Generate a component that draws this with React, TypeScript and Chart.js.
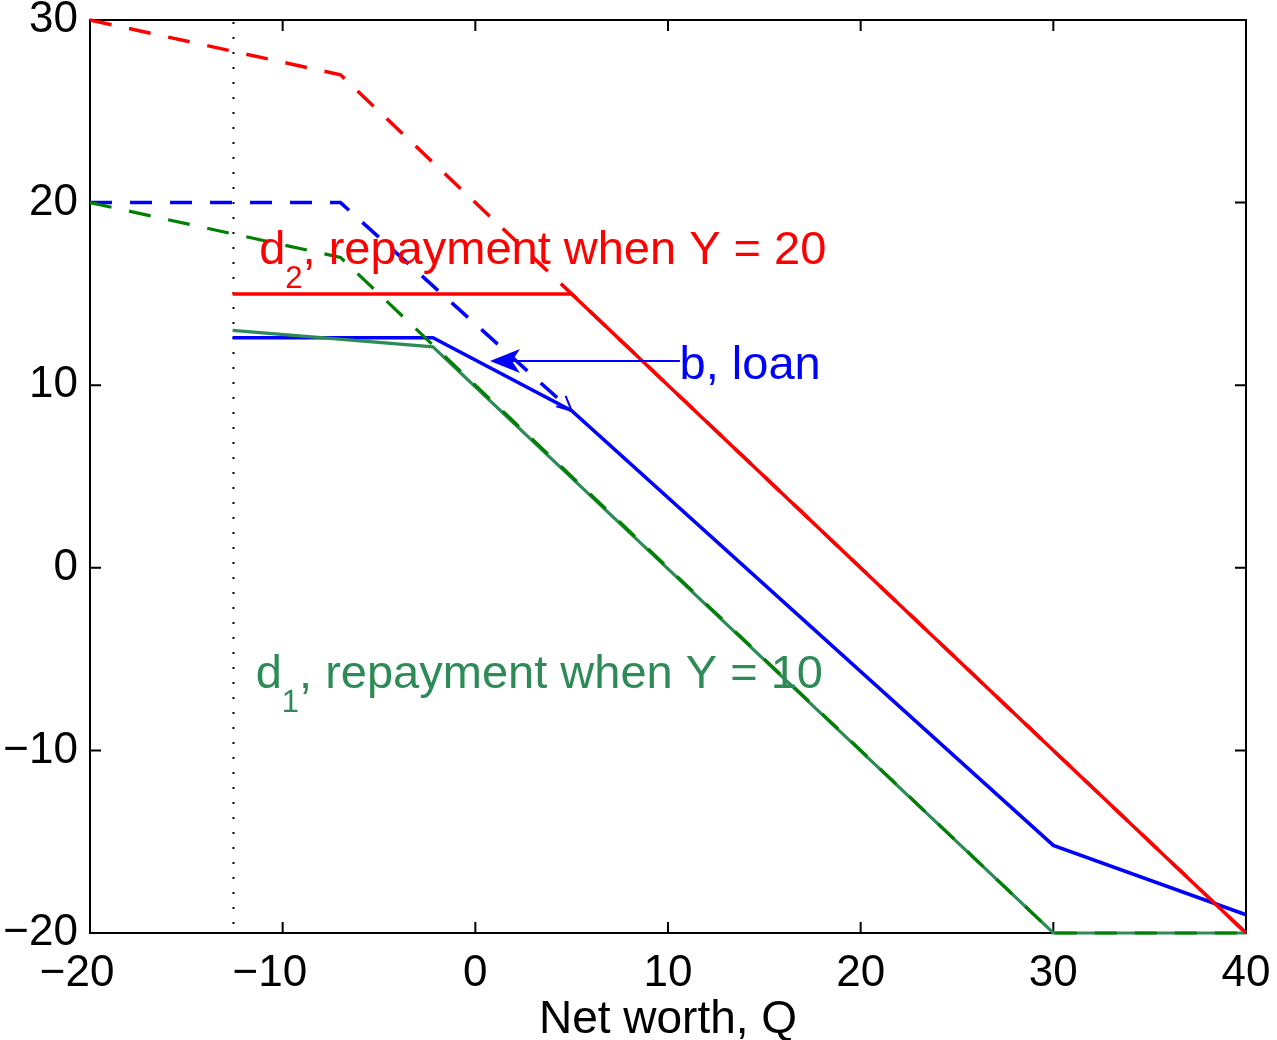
import { useEffect, useRef } from "react";
import { Chart, registerables } from "chart.js";

Chart.register(...registerables);

// Axis ticks
const xTickValues = [-20, -10, 0, 10, 20, 30, 40];
const yTickValues = [-20, -10, 0, 10, 20, 30];
const xAxisTitle = "Net worth, Q";

// Borrowing limit (vertical dotted line)
const borrowLimitQ = -12.6;

// d2: repayment when Y = 20
const d2DashedQ = [-20, -7, 40];
const d2DashedV = [30, 27, -20];
const d2SolidQ = [-12.6, 5, 40];
const d2SolidV = [15, 15, -20];

// b: loan
const bDashedQ = [-20, -7, 5];
const bDashedV = [20, 20, 8.6];
const bSolidQ = [-12.6, -2.2, 5, 30, 40];
const bSolidV = [12.6, 12.6, 8.6, -15.2, -19];

// d1: repayment when Y = 10
const d1DashedQ = [-20, -7, 30, 40];
const d1DashedV = [20, 17, -20, -20];
const d1SolidQ = [-12.6, -2.2, 30, 40];
const d1SolidV = [13, 12.1, -20, -20];

// Text annotations (anchored in data coordinates)
const d2Label = { q: -11.22, v: 16.64, main: "d", sub: "2", rest: ", repayment when Y = 20" };
const d1Label = { q: -11.4, v: -6.58, main: "d", sub: "1", rest: ", repayment when Y = 10" };
const bLabel = { q: 10.6, v: 10.34, text: "b, loan" };
const bArrowFrom = { q: 10.62, v: 11.33 };
const bArrowTo = { q: 0.76, v: 11.33 };

const FONT = "'Liberation Sans', Arial, Helvetica, sans-serif";
const TICK_SIZE = 44;
const TITLE_SIZE = 46;
const ANN_SIZE = 47;
const SUB_SIZE = 31;

const RED = "#ff0000";
const BLUE = "#0000ff";
const GREEN = "#008000";
const SEAGREEN = "#2e8b57";

const pts = (qs: number[], vs: number[]) => qs.map((q, i) => ({ x: q, y: vs[i] }));

const fmt = (v: number) => (v < 0 ? "\u2212" + Math.abs(v) : String(v));

const axesPlugin = {
  id: "matlabAxes",
  beforeDatasetsDraw(chart: any) {
    const { ctx, chartArea: a, scales } = chart;
    const x = scales.x;
    const y = scales.y;
    ctx.save();
    // dotted borrowing limit
    const lx = Math.round(x.getPixelForValue(borrowLimitQ)) + 0.5;
    ctx.strokeStyle = "#000";
    ctx.lineWidth = 2;
    ctx.setLineDash([2, 13]);
    ctx.beginPath();
    ctx.moveTo(lx, a.top + 2);
    ctx.lineTo(lx, a.bottom);
    ctx.stroke();
    ctx.setLineDash([]);
    // box
    ctx.lineWidth = 2;
    ctx.strokeRect(a.left, a.top, a.right - a.left, a.bottom - a.top);
    // inward ticks on all sides
    const tl = 11;
    ctx.beginPath();
    for (const v of xTickValues) {
      const p = x.getPixelForValue(v);
      ctx.moveTo(p, a.bottom);
      ctx.lineTo(p, a.bottom - tl);
      ctx.moveTo(p, a.top);
      ctx.lineTo(p, a.top + tl);
    }
    for (const v of yTickValues) {
      const p = y.getPixelForValue(v);
      ctx.moveTo(a.left, p);
      ctx.lineTo(a.left + tl, p);
      ctx.moveTo(a.right, p);
      ctx.lineTo(a.right - tl, p);
    }
    ctx.stroke();

    // x tick labels: digits centred on the tick, minus sign hanging to the left
    ctx.fillStyle = "#000";
    ctx.font = `${TICK_SIZE}px ${FONT}`;
    ctx.textBaseline = "alphabetic";
    for (const v of xTickValues) {
      const p = x.getPixelForValue(v);
      const digits = String(Math.abs(v));
      const w = ctx.measureText(digits).width;
      ctx.textAlign = "left";
      ctx.fillText(digits, p - w / 2, a.bottom + 53);
      if (v < 0) {
        ctx.textAlign = "right";
        ctx.fillText("\u2212", p - w / 2, a.bottom + 53);
      }
    }
    // x axis title
    ctx.font = `${TITLE_SIZE}px ${FONT}`;
    ctx.textAlign = "center";
    ctx.fillText(xAxisTitle, (a.left + a.right) / 2, a.bottom + 100);
    ctx.restore();
  },
  afterDatasetsDraw(chart: any) {
    const { ctx, scales } = chart;
    const x = scales.x;
    const y = scales.y;
    ctx.save();
    ctx.textAlign = "left";
    ctx.textBaseline = "alphabetic";

    const subLabel = (l: any, color: string) => {
      let px = x.getPixelForValue(l.q);
      const py = y.getPixelForValue(l.v);
      ctx.fillStyle = color;
      ctx.font = `${ANN_SIZE}px ${FONT}`;
      ctx.fillText(l.main, px, py);
      px += ctx.measureText(l.main).width;
      ctx.font = `${SUB_SIZE}px ${FONT}`;
      ctx.fillText(l.sub, px, py + 24);
      px += ctx.measureText(l.sub).width;
      ctx.font = `${ANN_SIZE}px ${FONT}`;
      ctx.fillText(l.rest, px, py);
    };
    subLabel(d2Label, RED);
    subLabel(d1Label, SEAGREEN);

    ctx.fillStyle = BLUE;
    ctx.font = `${ANN_SIZE}px ${FONT}`;
    ctx.fillText(bLabel.text, x.getPixelForValue(bLabel.q), y.getPixelForValue(bLabel.v));

    // annotation arrow pointing at the loan curve
    const fx = x.getPixelForValue(bArrowFrom.q);
    const fy = y.getPixelForValue(bArrowFrom.v);
    const tx = x.getPixelForValue(bArrowTo.q);
    const ty = y.getPixelForValue(bArrowTo.v);
    const ang = Math.atan2(ty - fy, tx - fx);
    ctx.strokeStyle = BLUE;
    ctx.lineWidth = 2;
    ctx.beginPath();
    ctx.moveTo(fx, fy);
    ctx.lineTo(tx - 20 * Math.cos(ang), ty - 20 * Math.sin(ang));
    ctx.stroke();
    const hl = 30;
    const hw = 12;
    const notch = 8;
    const bx = tx - hl * Math.cos(ang);
    const by = ty - hl * Math.sin(ang);
    const nx = -Math.sin(ang);
    const ny = Math.cos(ang);
    ctx.fillStyle = BLUE;
    ctx.beginPath();
    ctx.moveTo(tx, ty);
    ctx.lineTo(bx + nx * hw, by + ny * hw);
    ctx.lineTo(tx - (hl - notch) * Math.cos(ang), ty - (hl - notch) * Math.sin(ang));
    ctx.lineTo(bx - nx * hw, by - ny * hw);
    ctx.closePath();
    ctx.fill();

    // open arrowhead at the end of the dashed loan curve
    const n = bDashedQ.length;
    const ex = x.getPixelForValue(bDashedQ[n - 1]);
    const ey = y.getPixelForValue(bDashedV[n - 1]);
    const sx = x.getPixelForValue(bDashedQ[n - 2]);
    const sy = y.getPixelForValue(bDashedV[n - 2]);
    const a2 = Math.atan2(ey - sy, ex - sx);
    const al = 16;
    const spread = 0.45;
    ctx.lineWidth = 2;
    ctx.beginPath();
    ctx.moveTo(ex - al * Math.cos(a2 - spread), ey - al * Math.sin(a2 - spread));
    ctx.lineTo(ex, ey);
    ctx.lineTo(ex - al * Math.cos(a2 + spread), ey - al * Math.sin(a2 + spread));
    ctx.stroke();
    ctx.restore();
  },
};

export default function App() {
  const ref = useRef<HTMLCanvasElement | null>(null);

  useEffect(() => {
    document.body.style.margin = "0";
    const canvas = ref.current;
    if (!canvas) return;

    const line = (data: any, color: string, dashed: boolean, order: number, width = 3.5) => ({
      data,
      borderColor: color,
      backgroundColor: color,
      borderWidth: width,
      borderDash: dashed ? [22, 18] : [],
      pointRadius: 0,
      fill: false,
      tension: 0,
      order,
      clip: 4,
    });

    const chart = new Chart(canvas, {
      type: "line",
      data: {
        datasets: [
          line(pts(d2DashedQ, d2DashedV), RED, true, 7),
          line(pts(bDashedQ, bDashedV), BLUE, true, 6),
          line(pts(bSolidQ, bSolidV), BLUE, false, 5),
          line(pts(d1SolidQ, d1SolidV), SEAGREEN, false, 4, 3.2),
          line(pts(d1DashedQ, d1DashedV), GREEN, true, 3, 3.2),
          line(pts(d2SolidQ, d2SolidV), RED, false, 2),
        ],
      },
      options: {
        animation: false,
        responsive: false,
        devicePixelRatio: 1,
        parsing: false as any,
        layout: { padding: { top: 20, right: 31, left: 0, bottom: 0 } },
        plugins: { legend: { display: false }, tooltip: { enabled: false } },
        scales: {
          x: {
            type: "linear",
            min: -20,
            max: 40,
            afterFit: (s: any) => {
              s.height = 107;
              s.paddingLeft = 0;
              s.paddingRight = 0;
            },
            afterBuildTicks: (s: any) => {
              s.ticks = xTickValues.map((v) => ({ value: v }));
            },
            grid: { display: false, drawTicks: false },
            border: { display: false },
            ticks: { display: false },
          },
          y: {
            type: "linear",
            min: -20,
            max: 30,
            afterFit: (s: any) => {
              s.width = 90;
              s.paddingTop = 0;
              s.paddingBottom = 0;
            },
            afterBuildTicks: (s: any) => {
              s.ticks = yTickValues.map((v) => ({ value: v }));
            },
            grid: { display: false, drawTicks: false },
            border: { display: false },
            ticks: {
              color: "#000",
              padding: 12,
              autoSkip: false,
              font: { family: FONT, size: TICK_SIZE },
              callback: (v: any) => fmt(Number(v)),
            },
          },
        },
      },
      plugins: [axesPlugin],
    });

    return () => chart.destroy();
  }, []);

  return (
    <div style={{ width: 1277, height: 1040, background: "#fff" }}>
      <canvas ref={ref} width={1277} height={1040} style={{ display: "block", width: 1277, height: 1040 }} />
    </div>
  );
}
